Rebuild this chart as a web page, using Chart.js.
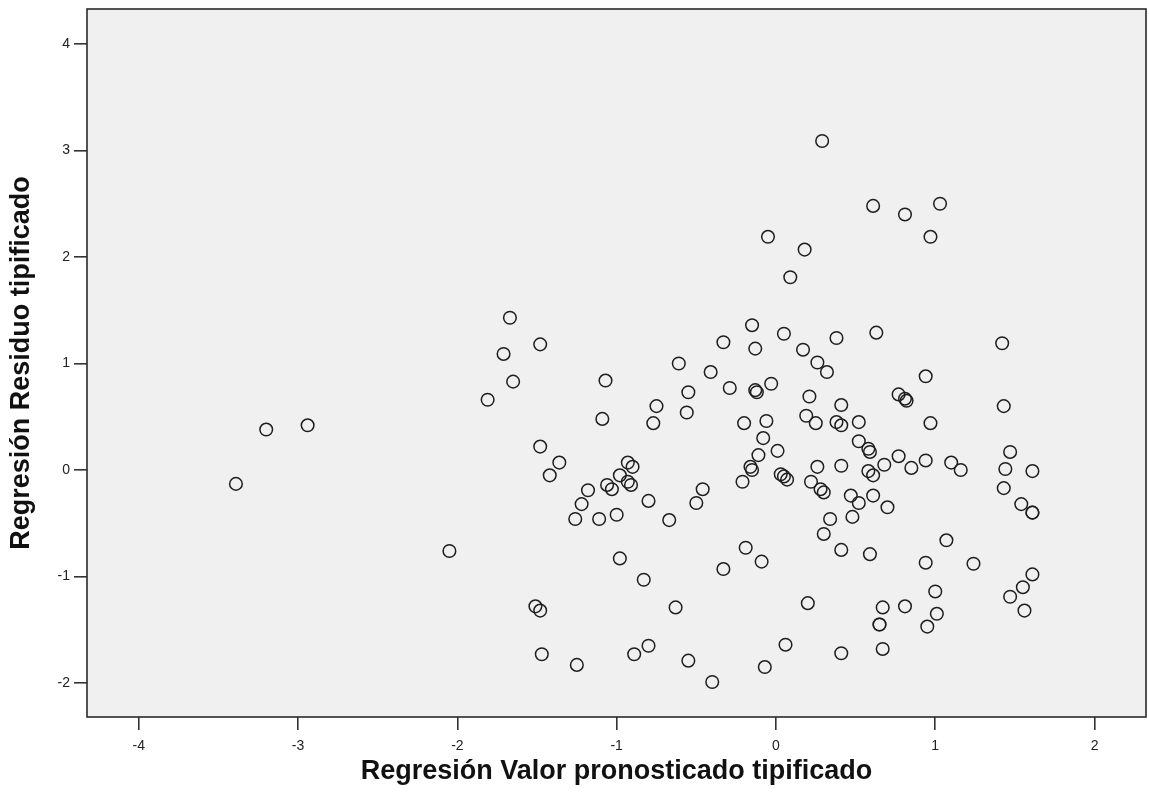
<!DOCTYPE html>
<html>
<head>
<meta charset="utf-8">
<script src="https://cdn.jsdelivr.net/npm/chart.js@4/dist/chart.umd.min.js"></script>
<style>
html,body{margin:0;padding:0;background:#fff;}
canvas{display:block;}
</style>
</head>
<body>
<canvas id="c" width="1149" height="806"></canvas>
<script>
// Predicted (standardized) values
const predicted = [
 -3.20,-2.94,-3.39,-2.05,-1.81,-1.65,-1.48,-1.36,-1.42,-1.18,
 -1.22,-1.26,-1.11,-1.51,-1.48,-1.47,-1.25, 0.29, 0.61, 0.81,
  1.03, 0.97,-0.05, 0.18, 0.09,-0.15, 0.05,-0.33,-0.13, 0.38,
  0.63, 0.17, 0.26, 0.32,-0.61,-0.41,-1.07,-0.55,-0.29,-0.13,
 -0.12,-0.03, 0.94, 0.77, 0.81, 0.82, 0.21, 0.41,-0.75,-0.56,
 -1.09,-0.77,-0.20,-0.06, 0.19, 0.25, 0.38, 0.41, 0.52, 0.52,
 -0.08, 0.01,-0.11,-0.16,-0.15,-0.21, 0.03, 0.05, 0.07, 0.26,
  0.41, 0.22, 0.28, 0.30, 0.47, 0.52,-0.93,-0.90,-0.98,-1.06,
 -1.03,-0.93,-0.91,-0.80,-0.46,-0.50,-1.00,-0.67, 0.34, 0.48,
  0.30, 0.41,-0.19,-0.09,-0.33,-0.98,-0.83,-0.63, 0.20,-0.80,
 -0.89,-0.55,-0.40, 0.06,-0.07, 0.41, 1.43, 0.97, 0.58, 0.59,
  0.77, 0.68, 0.58, 0.61, 0.85, 0.94, 1.10, 1.16, 1.47, 1.44,
  1.61, 1.43, 1.54, 1.61, 1.61, 0.61, 0.70, 0.59, 1.07, 0.94,
  1.24, 1.61, 1.55, 1.47, 1.56, 1.00, 0.67, 0.81, 1.01, 0.65,
  0.65, 0.95, 0.67,-1.67,-1.71,-1.48, 1.42
];
// Standardized residuals
const residual = [
  0.38, 0.42,-0.13,-0.76, 0.66, 0.83, 0.22, 0.07,-0.05,-0.19,
 -0.32,-0.46,-0.46,-1.28,-1.32,-1.73,-1.83, 3.09, 2.48, 2.40,
  2.50, 2.19, 2.19, 2.07, 1.81, 1.36, 1.28, 1.20, 1.14, 1.24,
  1.29, 1.13, 1.01, 0.92, 1.00, 0.92, 0.84, 0.73, 0.77, 0.75,
  0.73, 0.81, 0.88, 0.71, 0.67, 0.65, 0.69, 0.61, 0.60, 0.54,
  0.48, 0.44, 0.44, 0.46, 0.51, 0.44, 0.45, 0.42, 0.45, 0.27,
  0.30, 0.18, 0.14, 0.03, 0.00,-0.11,-0.04,-0.06,-0.09, 0.03,
  0.04,-0.11,-0.18,-0.21,-0.24,-0.31, 0.07, 0.03,-0.05,-0.14,
 -0.18,-0.11,-0.14,-0.29,-0.18,-0.31,-0.42,-0.47,-0.46,-0.44,
 -0.60,-0.75,-0.73,-0.86,-0.93,-0.83,-1.03,-1.29,-1.25,-1.65,
 -1.73,-1.79,-1.99,-1.64,-1.85,-1.72, 0.60, 0.44, 0.20, 0.17,
  0.13, 0.05,-0.01,-0.05, 0.02, 0.09, 0.07, 0.00, 0.17, 0.01,
 -0.01,-0.17,-0.32,-0.40,-0.40,-0.24,-0.35,-0.79,-0.66,-0.87,
 -0.88,-0.98,-1.10,-1.19,-1.32,-1.14,-1.29,-1.28,-1.35,-1.45,
 -1.45,-1.47,-1.68, 1.43, 1.09, 1.18, 1.19
];
const xTicks = [-4,-3,-2,-1,0,1,2];
const yTicks = [-2,-1,0,1,2,3,4];
const xTitle = 'Regresión Valor pronosticado tipificado';
const yTitle = 'Regresión Residuo tipificado';

const points = predicted.map((x,i)=>({x:x, y:residual[i]}));

const frame = {
  id:'frame',
  beforeDraw(chart){
    const {ctx, chartArea:a} = chart;
    ctx.save();
    ctx.fillStyle = '#f0f0f0';
    ctx.fillRect(a.left, a.top, a.right-a.left, a.bottom-a.top);
    ctx.restore();
  },
  afterDraw(chart){
    const {ctx, chartArea:a} = chart;
    ctx.save();
    ctx.strokeStyle = '#2a2a2a';
    ctx.lineWidth = 1.6;
    ctx.strokeRect(a.left, a.top, a.right-a.left, a.bottom-a.top);
    ctx.restore();
  }
};

const tickFont = {family:'"Liberation Sans", Arial, sans-serif', size:14};
const titleFont = {family:'"Liberation Sans", Arial, sans-serif', size:27, weight:'bold'};

new Chart(document.getElementById('c'), {
  type:'scatter',
  data:{datasets:[{
    data:points,
    pointRadius:6.3,
    pointHoverRadius:6.3,
    pointBorderWidth:1.5,
    pointBackgroundColor:'rgba(0,0,0,0)',
    pointBorderColor:'#1e1e1e'
  }]},
  options:{
    responsive:false,
    animation:false,
    devicePixelRatio:1,
    layout:{autoPadding:false, padding:{top:9,right:3,left:0,bottom:0}},
    plugins:{legend:{display:false}, tooltip:{enabled:false}},
    scales:{
      x:{
        type:'linear', min:-4.325, max:2.323,
        afterBuildTicks: ax => { ax.ticks = xTicks.map(v=>({value:v})); },
        afterFit: ax => { ax.height = 89; ax.paddingLeft = 0; ax.paddingRight = 0; },
        grid:{drawOnChartArea:false, drawTicks:true, tickLength:13, color:'#333', lineWidth:1.6},
        border:{display:false},
        ticks:{font:tickFont, color:'#222', padding:8, maxRotation:0, callback:v=>String(v)},
        title:{display:true, text:xTitle, font:titleFont, color:'#111', padding:{top:0,bottom:18}}
      },
      y:{
        type:'linear', min:-2.319, max:4.329,
        afterBuildTicks: ax => { ax.ticks = yTicks.map(v=>({value:v})); },
        afterFit: ax => { ax.width = 87; ax.paddingTop = 0; ax.paddingBottom = 0; },
        grid:{drawOnChartArea:false, drawTicks:true, tickLength:13, color:'#333', lineWidth:1.6},
        border:{display:false},
        ticks:{font:tickFont, color:'#222', padding:4, callback:v=>String(v)},
        title:{display:true, text:yTitle, font:titleFont, color:'#111', padding:{top:5,bottom:0}}
      }
    }
  },
  plugins:[frame]
});
</script>
</body>
</html>
